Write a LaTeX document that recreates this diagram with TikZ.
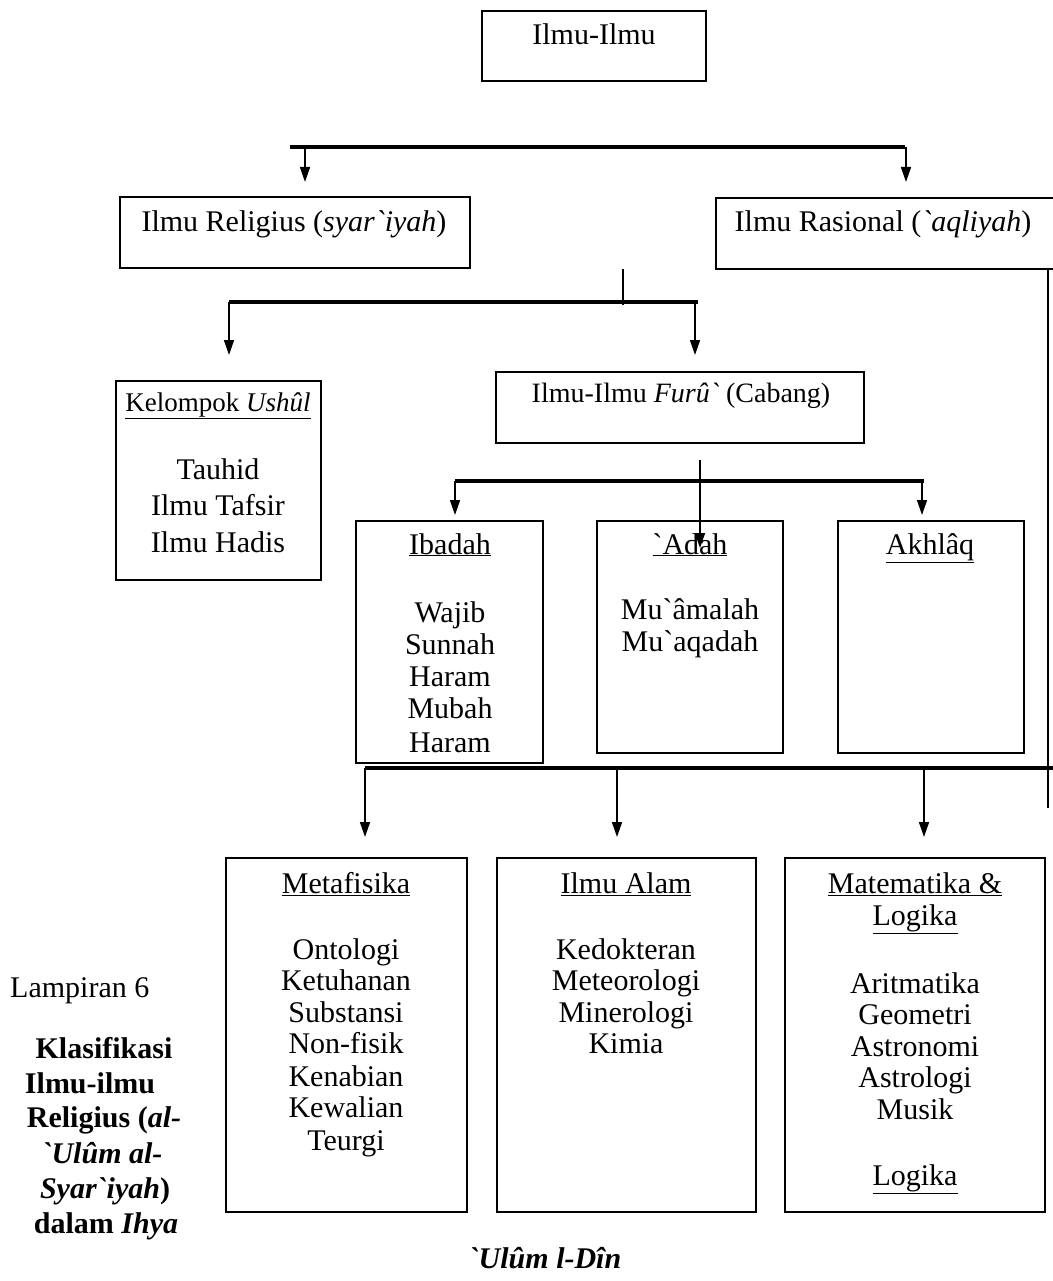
\documentclass[tikz,border=0pt]{standalone}
\usepackage{fontspec}
\setmainfont{Liberation Serif}[Ligatures=TeXOff]
\usetikzlibrary{arrows.meta}
\begin{document}
\begin{tikzpicture}[x=1pt,y=-1pt,
  box/.style={draw,line width=2pt,inner sep=0pt},
  bus/.style={line width=3.4pt},
  stem/.style={line width=1.8pt},
  arr/.style={line width=1.6pt,-{Triangle[length=15pt,width=10pt]}},
  txt/.style={inner sep=0pt,anchor=base,font=\fontsize{30}{32}\selectfont},
  stxt/.style={inner sep=0pt,anchor=base,font=\fontsize{28}{30}\selectfont},
  btxt/.style={inner sep=0pt,anchor=base,font=\fontsize{30}{32}\selectfont\bfseries},
]
\useasboundingbox (0,0) rectangle (1052,1281);

% boxes
\node[box,minimum width=224pt,minimum height=70pt] (top) at (594,46) {};
\node[box,minimum width=350pt,minimum height=71pt] (rel) at (295,232.5) {};
\node[box,minimum width=344pt,minimum height=71pt] (ras) at (888,233.5) {};
\node[box,minimum width=205pt,minimum height=199pt] (ush) at (218.5,480.5) {};
\node[box,minimum width=368pt,minimum height=71pt] (furu) at (680,407.5) {};
\node[box,minimum width=187pt,minimum height=242pt] (iba) at (449.5,642) {};
\node[box,minimum width=186pt,minimum height=232pt] (adah) at (690,637) {};
\node[box,minimum width=186pt,minimum height=232pt] (akh) at (931,637) {};
\node[box,minimum width=241pt,minimum height=354pt] (meta) at (346.5,1035) {};
\node[box,minimum width=259pt,minimum height=354pt] (alam) at (626.5,1035) {};
\node[box,minimum width=260pt,minimum height=354pt] (mat) at (915,1035) {};

% level 1 bus
\coordinate (b1L) at (290,147);
\coordinate (b1R) at (905,147);
\draw[bus] (b1L) -- (b1R);
\coordinate (a1) at (305,147);
\coordinate (a2) at (906,147);
\draw[arr,shorten >=14pt] (a1) -- (a1 |- rel.north);
\draw[arr,shorten >=15pt] (a2) -- (a2 |- ras.north);

% level 2 bus
\coordinate (s2t) at (623,269);
\coordinate (s2b) at (623,305);
\draw[stem] (s2t) -- (s2b);
\coordinate (b2L) at (229,302);
\coordinate (b2R) at (698,302);
\draw[bus] (b2L) -- (b2R);
\coordinate (a3) at (229,302);
\coordinate (a4) at (695,302);
\draw[arr,shorten >=25pt] (a3) -- (a3 |- ush.north);
\draw[arr,shorten >=16pt] (a4) -- (a4 |- furu.north);

% level 3 bus
\coordinate (s3t) at (700,460);
\coordinate (s3b) at (700,548);
\draw[arr] (s3t) -- (s3b);
\coordinate (b3L) at (455,481);
\coordinate (b3R) at (924,481);
\draw[bus] (b3L) -- (b3R);
\coordinate (a5) at (455,481);
\coordinate (a6) at (922,481);
\draw[arr,shorten >=5pt] (a5) -- (a5 |- iba.north);
\draw[arr,shorten >=5pt] (a6) -- (a6 |- akh.north);

% rational branch
\coordinate (r1) at (1048,269);
\coordinate (r2) at (1048,808);
\draw[stem] (r1) -- (r2);
\coordinate (b4L) at (365,768);
\coordinate (b4R) at (1056,768);
\draw[bus] (b4L) -- (b4R);
\coordinate (a7) at (365,768);
\coordinate (a8) at (617,768);
\coordinate (a9) at (924,768);
\draw[arr,shorten >=20pt] (a7) -- (a7 |- meta.north);
\draw[arr,shorten >=20pt] (a8) -- (a8 |- alam.north);
\draw[arr,shorten >=20pt] (a9) -- (a9 |- mat.north);

% texts
\node[txt] (ttop) at (594,45) {Ilmu-Ilmu};
\node[txt] (trel) at (294,232) {Ilmu Religius (\textit{syar`iyah})};
\node[txt] (tras) at (883,232) {Ilmu Rasional (\textit{`aqliyah})};
\node[stxt,font=\fontsize{27}{30}\selectfont] (tush) at (218,411) {\underline{Kelompok \textit{Ushûl}}};
\node[txt] (u1) at (218,479) {Tauhid};
\node[txt] (u2) at (218,515) {Ilmu Tafsir};
\node[txt] (u3) at (218,552) {Ilmu Hadis};
\node[stxt] (tfuru) at (681,402) {Ilmu-Ilmu \textit{Furû`} (Cabang)};

\node[txt] (tiba) at (450,554) {\underline{Ibadah}};
\foreach \t/\y [count=\i] in {Wajib/622,Sunnah/654,Haram/686,Mubah/718,Haram/752}
  \node[txt] (ib\i) at (450,\y) {\t};
\node[txt] (tadah) at (690,554) {\underline{`Adah}};
\node[txt] (ad1) at (690,619) {Mu`âmalah};
\node[txt] (ad2) at (690,651) {Mu`aqadah};
\node[txt] (takh) at (930,554) {\underline{Akhlâq}};

\node[txt] (tmeta) at (346,893) {\underline{Metafisika}};
\foreach \t/\y [count=\i] in {Ontologi/959,Ketuhanan/990,Substansi/1022,Non-fisik/1053,Kenabian/1086,Kewalian/1117,Teurgi/1150}
  \node[txt] (me\i) at (346,\y) {\t};
\node[txt] (talam) at (626,893) {\underline{Ilmu Alam}};
\foreach \t/\y [count=\i] in {Kedokteran/959,Meteorologi/990,Minerologi/1022,Kimia/1053}
  \node[txt] (al\i) at (626,\y) {\t};
\node[txt] (tmat1) at (915,893) {\underline{Matematika \&}};
\node[txt] (tmat2) at (915,925) {\underline{Logika}};
\foreach \t/\y [count=\i] in {Aritmatika/993,Geometri/1024,Astronomi/1056,Astrologi/1087,Musik/1119}
  \node[txt] (ma\i) at (915,\y) {\t};
\node[txt] (tlog) at (915,1185) {\underline{Logika}};

% caption
\node[txt,anchor=base west] (lamp) at (10,997) {Lampiran 6};
\node[btxt] (c1) at (104,1058) {Klasifikasi};
\node[btxt] (c2) at (90,1093) {Ilmu-ilmu};
\node[btxt] (c3) at (104,1127) {Religius (\textit{al-}};
\node[btxt] (c4) at (102,1163) {\textit{`Ulûm al-}};
\node[btxt] (c5) at (105,1198) {\textit{Syar`iyah})};
\node[btxt] (c6) at (106,1233) {dalam \textit{Ihya}};
\node[btxt,font=\fontsize{30}{32}\selectfont\bfseries\itshape] (c7) at (545,1268) {`Ulûm l-Dîn};
\end{tikzpicture}
\end{document}
